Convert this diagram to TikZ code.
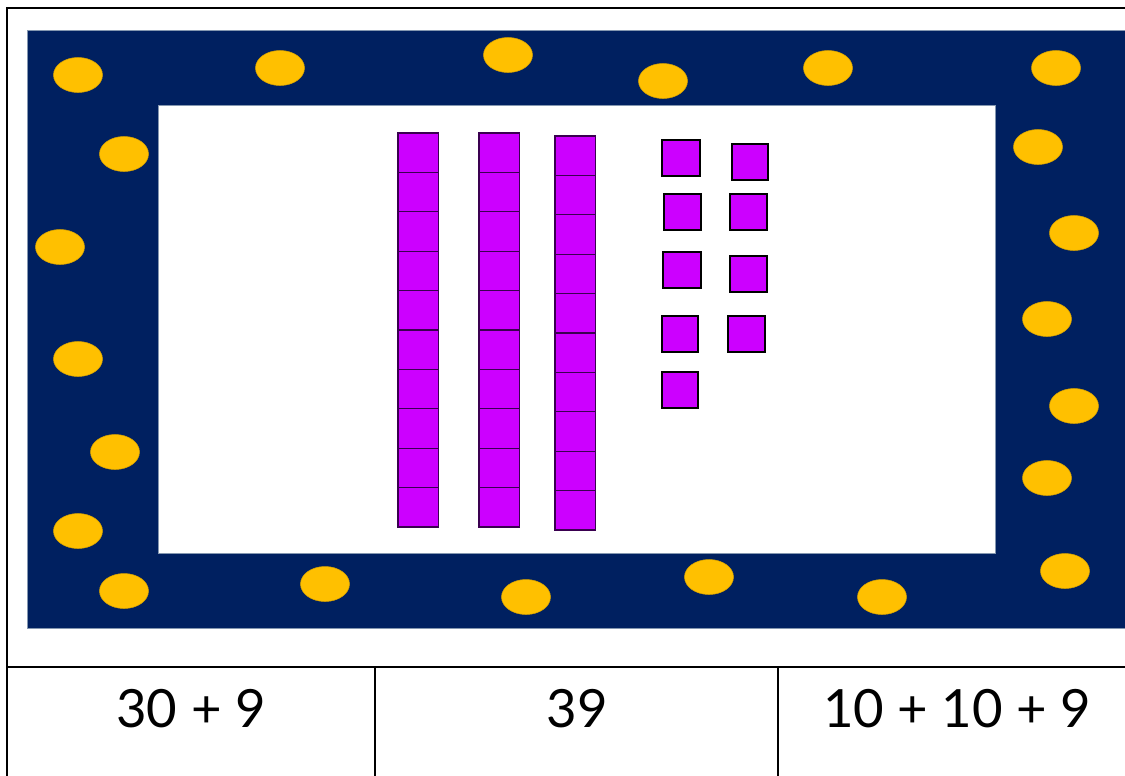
\documentclass[tikz,border=0pt]{standalone}
\usepackage{fontspec}
\setmainfont{Lato}
\definecolor{navy}{HTML}{002060}
\definecolor{gold}{HTML}{FFC000}
\definecolor{violet}{HTML}{CC00FF}
\definecolor{darkviolet}{HTML}{3A0050}
\definecolor{edgeblue}{HTML}{8497B0}
\tikzset{
  frameline/.style={line width=1.2pt, black},
  coin/.style={fill=gold, draw=gold!85!black, line width=0.3pt},
  cube/.style={fill=violet, draw=black, line width=0.6pt},
  rodcell/.style={fill=violet, draw=darkviolet, line width=0.75pt},
  numtext/.style={font=\fontsize{30}{36}\selectfont, inner sep=0pt, anchor=center}
}
\begin{document}
\begin{tikzpicture}[x=0.02cm,y=-0.02cm]
\useasboundingbox (0,0) rectangle (1125,775);
\clip (0,0) rectangle (1125,775);
% navy border and white inner area
\fill[navy, draw=edgeblue, line width=0.4pt] (27,30) rectangle (1130,628);
\fill[white, draw=edgeblue, line width=0.3pt] (158,105) rectangle (995,553);
% coins
\foreach \cx/\cy in {78/75, 280/68, 508/55, 663/81, 828/68, 1056/68,
  124/154, 1038/147, 60/247, 1074/233, 78/359, 1047/319,
  115/452, 1074/406, 78/531, 1047/478,
  124/591, 325/584, 526/597, 709/577, 882/597, 1065/571}
  \draw[coin] (\cx,\cy) ellipse [x radius=24.5, y radius=17.5];
% ten rods
\foreach \rx/\ry in {398/133, 479/133, 555/136}{
  \foreach \k in {0,...,9}
    \draw[rodcell] (\rx,{\ry+39.4*\k}) rectangle ({\rx+40.5},{\ry+39.4*(\k+1)});
}
% unit cubes
\draw[cube] (662,140) rectangle (700,176);
\draw[cube] (732,144) rectangle (768,180);
\draw[cube] (664,194) rectangle (701,230);
\draw[cube] (730,194) rectangle (767,230);
\draw[cube] (663,252) rectangle (701,288);
\draw[cube] (730,256) rectangle (767,292);
\draw[cube] (662,316) rectangle (698,352);
\draw[cube] (728,316) rectangle (765,352);
\draw[cube] (662,372) rectangle (698,408);
% frame and table lines
\coordinate (tl) at (7,8);
\coordinate (tr) at (1130,8);
\coordinate (bl) at (7,780);
\coordinate (ml) at (7,667);
\coordinate (mr) at (1130,667);
\coordinate (c1t) at (375,667);
\coordinate (c1b) at (375,780);
\coordinate (c2t) at (778,667);
\coordinate (c2b) at (778,780);
\draw[frameline] (bl) -- (tl) -- (tr);
\draw[frameline] (ml) -- (mr);
\draw[frameline] (c1t) -- (c1b);
\draw[frameline] (c2t) -- (c2b);
% texts
\node[numtext] (t1) at (191,709) {30 + 9};
\node[numtext] (t2) at (577,709) {39};
\node[numtext] (t3) at (957,709) {10 + 10 + 9};
\end{tikzpicture}
\end{document}
